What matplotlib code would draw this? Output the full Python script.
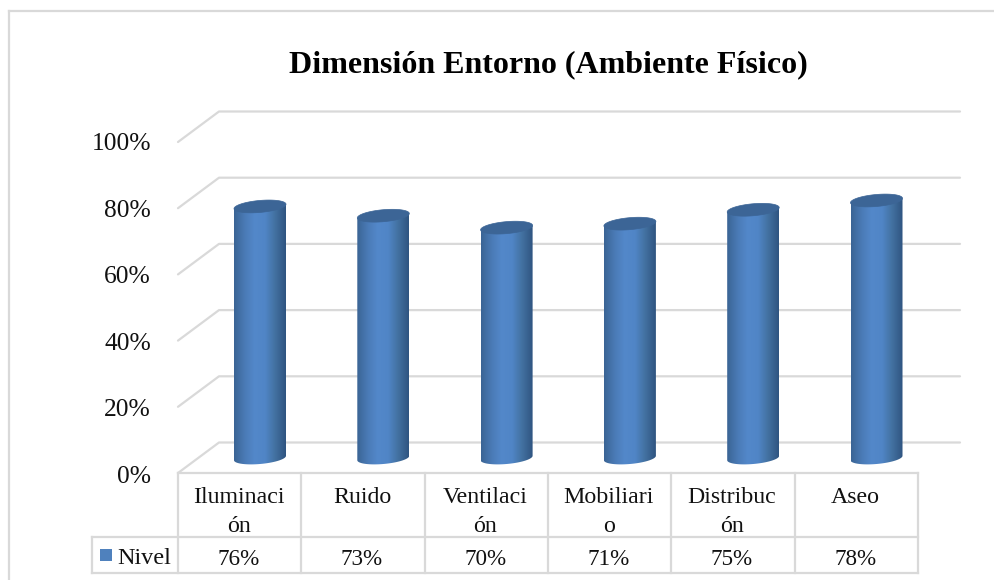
import matplotlib
matplotlib.use("Agg")
import matplotlib.pyplot as plt
from matplotlib.colors import LinearSegmentedColormap
from matplotlib.patches import Polygon, Rectangle
import numpy as np

plt.rcParams['font.family'] = ['Liberation Serif', 'DejaVu Serif']

title = "Dimensión Entorno (Ambiente Físico)"
categories = ["Iluminaci\nón", "Ruido", "Ventilaci\nón", "Mobiliari\no", "Distribuc\nón", "Aseo"]
values = [76, 73, 70, 71, 75, 78]
# heights as drawn in the picture, the labels are rounded
heights = [76, 73.2, 69.6, 70.8, 75, 77.8]
ticks = [0, 20, 40, 60, 80, 100]
series = "Nivel"

W, H = 995, 580
GRID = "#d9d9d9"
cmap = LinearSegmentedColormap.from_list("cyl", ["#3a6494", "#4a7ab5", "#5388ca", "#5085c6", "#42709f", "#2f5480"])

fig = plt.figure(figsize=(W / 100, H / 100), dpi=100)

# furniture in pixels
bg = fig.add_axes([0, 0, 1, 1])
bg.set_xlim(0, W)
bg.set_ylim(H, 0)
bg.axis("off")

# outer frame, only top and left show in the crop
bg.plot([9, W], [11, 11], color=GRID, lw=1.6)
bg.plot([9, 9], [11, H], color=GRID, lw=1.6)

y_front0 = 473
y_back0 = 442.5
px_tick = 3.31
for t in ticks:
    yf = y_front0 - t * px_tick
    yb = y_back0 - t * px_tick
    bg.plot([178, 219, 960], [yf, yb, yb], color=GRID, lw=1.6, solid_capstyle="round")
    bg.text(151, 477 - t * 3.33, f"{t}%", ha="right", va="center", fontsize=18.4, color="#111111")

bg.text(548.5, 65, title, ha="center", va="center", fontsize=23, fontweight="bold", color="black")

# table under the chart
cols = np.linspace(178, 918, len(categories) + 1)
row_top, row_mid, row_bot = 473, 537, 573
for x in cols:
    bg.plot([x, x], [row_top, row_bot], color=GRID, lw=1.6)
bg.plot([178, 918], [row_top, row_top], color=GRID, lw=1.6)
bg.plot([92, 918], [row_mid, row_mid], color=GRID, lw=1.6)
bg.plot([92, 918], [row_bot, row_bot], color=GRID, lw=1.6)
bg.plot([92, 92], [row_mid, row_bot], color=GRID, lw=1.6)
for i, (c, v) in enumerate(zip(categories, values)):
    xc = (cols[i] + cols[i + 1]) / 2 - 1
    bg.text(xc, 487, c, ha="center", va="top", fontsize=17.2, linespacing=1.53, color="#111111")
    bg.text(xc, 559.5, f"{v}%", ha="center", va="center", fontsize=16.7, color="#111111")
bg.add_patch(Rectangle((100, 549), 12, 11.5, fc="#4f81bd", ec="none"))
bg.text(117, 559, series, ha="left", va="center", fontsize=17.4, color="#111111")

# cylinders in category / percent units
ax = fig.add_axes([0, 0, 1, 1])
ax.patch.set_alpha(0)
ax.axis("off")
x0, dx = 260, 123.3

half = 26 / dx
b = 6 / px_tick
tilt = 2.2 / px_tick
t = np.linspace(0, 2 * np.pi, 120)
grad = np.linspace(0, 1, 256).reshape(1, -1)
for i, v in enumerate(heights):
    ex = i + half * np.cos(t)
    top = v + b * np.sin(t) + tilt * np.cos(t)
    low = b * np.sin(t) + tilt * np.cos(t)
    # body outline: lower half of the base ellipse, then up to the top ellipse
    lower = np.sin(t) <= 0
    order = np.argsort(ex[lower])
    xs = np.r_[ex[lower][order], i + half, i - half]
    ys = np.r_[low[lower][order], v + tilt, v - tilt]
    body = Polygon(np.c_[xs, ys], closed=True, fc="none", ec="none")
    ax.add_patch(body)
    im = ax.imshow(grad, cmap=cmap, extent=[i - half, i + half, -5, v + 5], aspect="auto", zorder=3)
    im.set_clip_path(body)
    ax.add_patch(Polygon(np.c_[ex, top], closed=True, fc="#3c6596", ec="#3c6596", lw=0.5, zorder=4))
ax.set_xlim(-x0 / dx, (W - x0) / dx)
ax.set_ylim((458 - H) / px_tick, 458 / px_tick)

fig.savefig("out.png", dpi=100)
